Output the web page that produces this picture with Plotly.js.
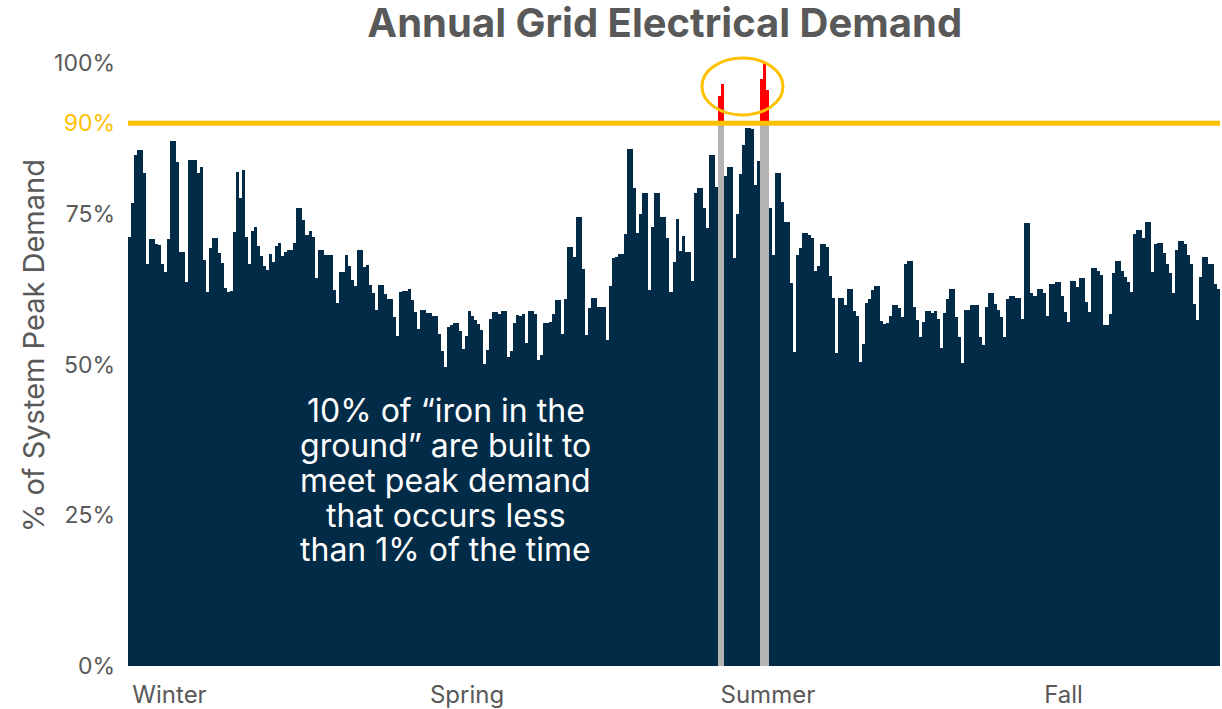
<!DOCTYPE html>
<html>
<head>
<meta charset="utf-8">
<script src="https://cdn.plot.ly/plotly-3.0.1.min.js"></script>
<style>html,body{margin:0;padding:0;background:#fff;}#chart{width:1222px;height:709px;}</style>
</head>
<body>
<div id="chart"></div>
<script>
// Daily demand, % of system peak
const winterDemand = [71.2, 76.8, 84.8, 85.6, 85.6, 81.8, 66.7, 70.8, 70.8, 70.0, 69.8, 66.7, 65.4, 70.8, 87.1, 87.1, 83.6, 68.7, 68.7, 63.6, 83.9, 83.9, 83.9, 81.8, 82.8, 67.4, 62.0, 69.3, 71.0, 71.0, 68.5, 66.9, 62.7, 62.1, 62.2, 72.0, 82.0, 77.6, 82.3, 71.2, 66.7, 72.2, 72.8,
  69.7, 68.0, 66.3, 65.6, 68.3, 67.0, 69.7, 70.2, 68.0, 68.6, 69.0, 69.0, 70.2, 76.0, 76.0, 74.0, 71.4, 72.2, 71.1, 64.3, 69.0, 69.0, 68.1, 68.1, 68.1, 62.3, 60.2, 65.4, 65.4, 68.1, 66.3, 64.0, 63.0, 69.0, 69.0, 66.1, 66.5, 63.2, 61.8, 59.0, 63.2, 63.2, 61.7, 60.9, 60.9];
const springDemand = [57.8, 54.8, 62.0, 62.2, 62.2, 62.5, 60.7, 58.7, 55.9, 59.1, 59.1, 58.5, 58.5, 58.0, 58.0, 55.1, 52.2, 49.6, 56.2, 56.5, 56.9, 56.9, 55.6, 52.6, 54.7, 58.9, 58.0, 57.4, 56.7, 55.8, 50.1, 52.4, 57.5, 58.7, 58.7, 58.4, 58.8, 58.8, 51.2, 52.2, 56.9, 58.2, 58.1, 58.4, 53.5,
  58.9, 58.9, 58.4, 50.8, 51.5, 56.9, 56.9, 57.1, 58.4, 60.7, 60.7, 55.1, 60.9, 69.5, 69.5, 67.8, 74.4, 74.4, 65.8, 54.9, 59.3, 61.1, 61.1, 59.5, 59.5, 59.5, 54.0, 63.0, 67.7, 67.9, 68.4, 68.4, 71.6, 85.7, 85.7, 79.3, 71.8, 74.9, 78.5, 78.5, 62.3, 72.8, 78.5, 78.5, 74.4];
const summerDemand = [74.4, 70.9, 62.1, 67.0, 74.1, 68.9, 71.3, 68.6, 68.6, 63.8, 78.4, 79.3, 79.3, 76.0, 72.6, 84.8, 84.8, 79.4, 94.5, 96.6, 81.2, 82.7, 82.7, 67.7, 74.9, 81.6, 86.4, 89.3, 89.3, 89.1, 79.8, 83.8, 97.3, 100, 95.5, 76.0, 68.1, 81.7, 81.7, 77.0, 73.7, 73.7, 63.5, 52.0, 68.1,
  69.3, 71.8, 71.8, 71.5, 71.0, 65.5, 66.3, 70.0, 70.0, 69.5, 64.7, 61.1, 51.9, 61.1, 61.1, 59.8, 62.5, 62.5, 58.8, 58.0, 50.4, 53.4, 60.2, 60.8, 62.3, 63.1, 63.1, 57.2, 56.7, 56.9, 58.0, 59.8, 59.8, 59.3, 57.8, 66.7, 67.2, 67.2, 59.5, 57.4, 54.5, 57.1, 58.8, 58.8, 58.6];
const fallDemand = [58.8, 57.5, 52.8, 58.6, 60.8, 62.5, 62.5, 57.8, 54.6, 50.2, 59.0, 59.0, 59.8, 59.8, 59.8, 54.6, 53.3, 59.5, 61.8, 61.8, 60.0, 59.0, 57.8, 54.6, 60.8, 61.3, 61.3, 61.1, 61.1, 57.6, 73.4, 73.4, 61.8, 61.3, 62.5, 62.5, 61.9, 58.0, 63.4, 63.4, 63.7, 63.6, 61.3, 58.7,
  57.0, 63.8, 63.8, 62.9, 64.3, 64.3, 60.3, 58.7, 66.0, 66.0, 65.5, 64.8, 56.6, 56.6, 58.3, 65.2, 67.1, 67.1, 65.5, 64.5, 63.7, 62.1, 71.6, 72.3, 72.3, 70.9, 73.7, 73.7, 65.3, 70.0, 70.2, 70.2, 68.5, 66.6, 65.2, 61.8, 69.0, 70.5, 70.5, 70.0, 68.2, 66.7, 60.0, 57.4, 64.5, 67.8, 67.8, 66.7, 66.7, 63.4, 62.5];

const seasonLabels = ["Winter", "Spring", "Summer", "Fall"];
const seasonTickDays = [13.3, 112.2, 212.2, 310.5];
const yTickVals = [0, 25, 50, 75, 90, 100];
const yTickText = ["0%", "25%", "50%", "75%", "<span style='color:#FFC000'>90%</span>", "100%"];
const threshold = 90;
const noteLines = ["10% of “iron in the", "ground” are built to", "meet peak demand", "that occurs less", "than 1% of the time"];
const noteLineY = [42.3, 36.5, 30.8, 25.0, 19.4];

const demand = winterDemand.concat(springDemand, summerDemand, fallDemand);
const N = demand.length;
const days = demand.map((v, i) => i);

const NAVY = "#022b47", GRAY = "#b3b3b3", RED = "#ff0000", GOLD = "#ffc000", TXT = "#595959";

const base = demand.map(v => v > threshold ? 0 : v);
const grayPart = demand.map(v => v > threshold ? threshold : 0);
const redPart = demand.map(v => v > threshold ? v - threshold : 0);

const traces = [
  {type: "bar", x: days, y: base, marker: {color: NAVY, line: {width: 0}}, hoverinfo: "skip"},
  {type: "bar", x: days, y: grayPart, marker: {color: GRAY, line: {width: 0}}, hoverinfo: "skip"},
  {type: "bar", x: days, y: redPart, marker: {color: RED, line: {width: 0}}, hoverinfo: "skip"}
];

const annotations = [
  {text: "% of System Peak Demand", xref: "paper", yref: "paper", x: -0.087, y: 0.532,
   xanchor: "center", yanchor: "middle", textangle: -90, showarrow: false,
   font: {size: 29, color: TXT}}
];
noteLines.forEach((t, k) => annotations.push({
  text: t, xref: "x", yref: "y", x: 105.2, y: noteLineY[k], xanchor: "center", yanchor: "middle",
  showarrow: false, font: {size: 32, color: "#ffffff"}
}));

const layout = {
  width: 1222, height: 709,
  margin: {l: 128, r: 2, t: 63, b: 43},
  paper_bgcolor: "#ffffff", plot_bgcolor: "#ffffff",
  barmode: "stack", bargap: 0,
  showlegend: false,
  font: {family: "Inter, 'Noto Sans', sans-serif", color: TXT},
  title: {text: "<b>Annual Grid Electrical Demand</b>", font: {size: 40, color: TXT, family: "Inter, sans-serif"},
          x: 0.544, xref: "container", xanchor: "center", y: 0.9676, yref: "container", yanchor: "middle"},
  xaxis: {range: [-0.5, N - 0.5], tickmode: "array", tickvals: seasonTickDays, ticktext: seasonLabels,
          showgrid: false, zeroline: false, showline: false, ticks: "", ticklabelstandoff: 12,
          tickfont: {size: 24, color: TXT}},
  yaxis: {range: [0, 100], tickmode: "array", tickvals: yTickVals, ticktext: yTickText,
          showgrid: false, zeroline: false, showline: false, ticks: "", ticklabelstandoff: 12,
          tickfont: {size: 23, color: TXT}},
  shapes: [
    {type: "line", xref: "paper", yref: "y", x0: 0, x1: 1, y0: threshold, y1: threshold,
     line: {color: GOLD, width: 5}, layer: "above"},
    {type: "circle", xref: "paper", yref: "paper", x0: 0.5256, x1: 0.5998, y0: 0.9138, y1: 1.0083,
     line: {color: GOLD, width: 3}, layer: "above"}
  ],
  annotations: annotations
};

Plotly.newPlot("chart", traces, layout, {staticPlot: true, displayModeBar: false});
</script>
</body>
</html>
